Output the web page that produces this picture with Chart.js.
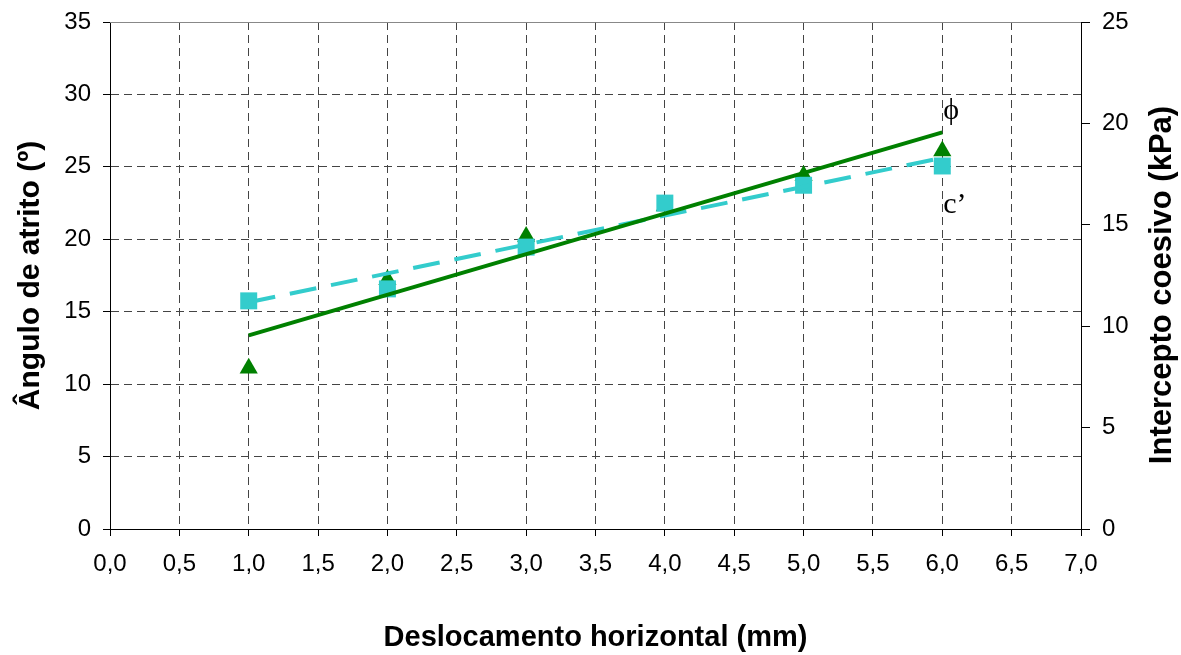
<!DOCTYPE html>
<html>
<head>
<meta charset="utf-8">
<script src="https://cdn.jsdelivr.net/npm/chart.js@4/dist/chart.umd.min.js"></script>
<style>
  html, body { margin: 0; padding: 0; background: #fff; }
  #wrap { width: 1181px; height: 655px; position: relative; }
</style>
</head>
<body>
<div id="wrap"><canvas id="c" width="1181" height="655"></canvas></div>
<script>
// ---- data ----
const xValues   = [1, 2, 3, 4, 5, 6];                       // Deslocamento horizontal (mm)
const phiValues = [11.1, 17.2, 20.2, 22.3, 24.4, 26.1];     // Ângulo de atrito (º)
const cValues   = [11.25, 11.84, 13.9, 16.07, 16.95, 17.9]; // Intercepto coesivo (kPa)
const trendX    = [1, 6];
const phiTrend  = [13.37, 27.38];
const cTrend    = [11.18, 18.3];
const xTitle = 'Deslocamento horizontal (mm)';
const yTitle = 'Ângulo de atrito (º)';
const y2Title = 'Intercepto coesivo (kPa)';
const phiLabel = 'ϕ';
const cLabel = 'c’';

const toPts = (xs, ys) => xs.map((x, i) => ({x: x, y: ys[i]}));
const fmt = v => Number(v).toFixed(1).replace('.', ',');
const GRID = '#444444';
const SANS = '"Liberation Sans", Arial, sans-serif';

const decor = {
  id: 'decor',
  afterDatasetsDraw(chart) {
    const {ctx, chartArea: a, scales} = chart;
    ctx.save();
    // top frame line
    ctx.strokeStyle = '#888888';
    ctx.lineWidth = 1;
    ctx.beginPath();
    ctx.moveTo(a.left, a.top + 0.5);
    ctx.lineTo(a.right, a.top + 0.5);
    ctx.stroke();
    // series labels
    ctx.fillStyle = '#000';
    ctx.font = '30px "Liberation Serif", "DejaVu Serif", serif';
    ctx.textAlign = 'left';
    ctx.textBaseline = 'middle';
    const xp = scales.x.getPixelForValue(6);
    ctx.fillText(phiLabel, xp + 1, scales.y.getPixelForValue(phiTrend[1]) - 21);
    ctx.fillText(cLabel, xp + 1, scales.y2.getPixelForValue(cValues[5]) + 39);
    // right axis title (reads bottom to top)
    ctx.font = 'bold 31px ' + SANS;
    ctx.textAlign = 'center';
    ctx.translate(1162, 285);
    ctx.rotate(-Math.PI / 2);
    ctx.fillText(y2Title, 0, 0);
    ctx.restore();
  }
};

new Chart(document.getElementById('c'), {
  type: 'scatter',
  data: {
    datasets: [
      { label: 'phi trend', data: toPts(trendX, phiTrend), yAxisID: 'y', showLine: true,
        borderColor: '#008000', borderWidth: 4, pointRadius: 0, order: 0 },
      { label: 'c trend', data: toPts(trendX, cTrend), yAxisID: 'y2', showLine: true,
        borderColor: '#33CCCC', borderWidth: 4, borderDash: [27, 15], pointRadius: 0, order: 1 },
      { label: "c'", data: toPts(xValues, cValues), yAxisID: 'y2', pointStyle: 'rect',
        pointRadius: 12, backgroundColor: '#33CCCC', borderColor: '#33CCCC', borderWidth: 0, order: 2 },
      { label: 'phi', data: toPts(xValues, phiValues), yAxisID: 'y', pointStyle: 'triangle',
        pointRadius: 10.5, backgroundColor: '#008000', borderColor: '#008000', borderWidth: 0, order: 3 }
    ]
  },
  options: {
    responsive: false,
    animation: false,
    devicePixelRatio: 1,
    layout: { padding: { top: 22, left: 0, right: 0, bottom: 0 } },
    plugins: { legend: { display: false }, tooltip: { enabled: false } },
    scales: {
      x: {
        type: 'linear', min: 0, max: 7,
        afterFit: s => { s.height = 126; },
        ticks: { stepSize: 0.5, callback: v => fmt(v), color: '#000', padding: 14, maxRotation: 0,
                 font: { family: SANS, size: 24 } },
        grid: { color: c => (c.tick && (c.tick.value === 0 || c.tick.value === 7)) ? 'rgba(0,0,0,0)' : GRID,
                tickLength: 7, tickColor: '#000', lineWidth: 1 },
        border: { color: '#000', width: 1, dash: [8, 5] },
        title: { display: true, text: xTitle, color: '#000', padding: { top: 0, bottom: 0 },
                 font: { family: SANS, size: 29, weight: 'bold' } }
      },
      y: {
        position: 'left', min: 0, max: 35,
        afterFit: s => { s.width = 110; },
        ticks: { stepSize: 5, color: '#000', padding: 12,
                 font: { family: SANS, size: 24, lineHeight: 0.8 } },
        grid: { color: c => (c.tick && (c.tick.value === 0 || c.tick.value === 35)) ? 'rgba(0,0,0,0)' : GRID,
                tickLength: 7, tickColor: '#000', lineWidth: 1 },
        border: { color: '#000', width: 1, dash: [8, 5] },
        title: { display: true, text: yTitle, color: '#000', padding: { top: 13, bottom: 0 },
                 font: { family: SANS, size: 30, weight: 'bold' } }
      },
      y2: {
        position: 'right', min: 0, max: 25,
        afterFit: s => { s.width = 100; },
        ticks: { stepSize: 5, color: '#000', padding: 12,
                 font: { family: SANS, size: 24, lineHeight: 0.8 } },
        grid: { drawOnChartArea: false, tickLength: 9, tickColor: '#000' },
        border: { color: '#000', width: 1 }
      }
    }
  },
  plugins: [decor]
});
</script>
</body>
</html>
